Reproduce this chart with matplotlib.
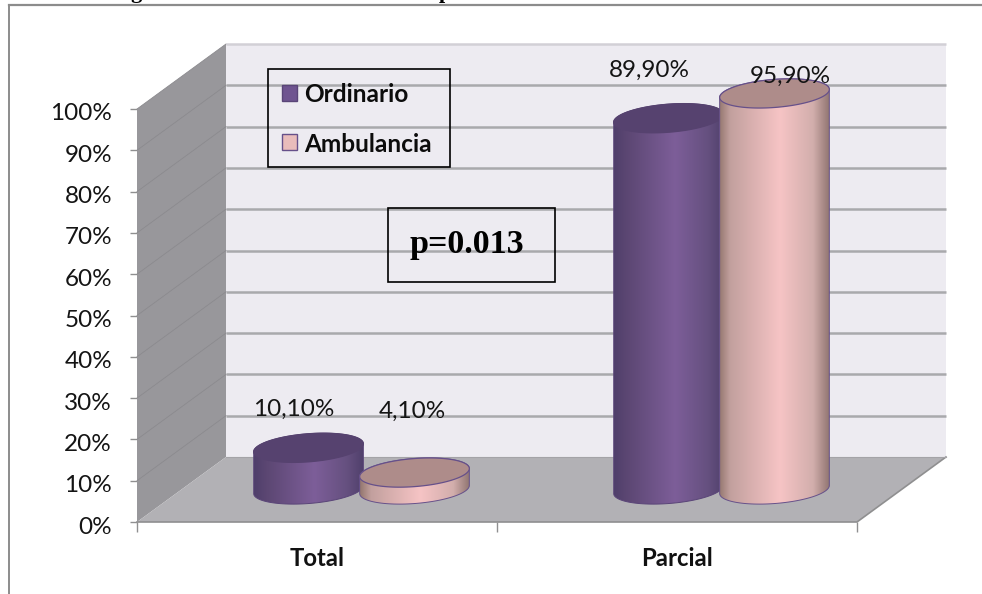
import numpy as np
import matplotlib
matplotlib.use('Agg')
import matplotlib.pyplot as plt
from matplotlib.colors import LinearSegmentedColormap
from matplotlib.patches import PathPatch, Polygon, Rectangle
from matplotlib.path import Path
from matplotlib.transforms import ScaledTranslation

categories = ['Total', 'Parcial']
series_names = ['Ordinario', 'Ambulancia']
ordinario = [10.1, 89.9]
ambulancia = [4.1, 95.9]
value_labels = [['10,10%', '89,90%'], ['4,10%', '95,90%']]
y_ticks = [0, 10, 20, 30, 40, 50, 60, 70, 80, 90, 100]
p_text = 'p=0.013'

W, H = 982, 594
# plot box of the front plane, in pixels
left, right, top, bottom = 137, 857, 109, 522
x_scale = (right - left) / 2.0     # px per category
y_scale = (bottom - top) / 100.0   # px per percent

depth_x = 89 / x_scale
depth_y = 65 / y_scale
bar_offset = 53 / x_scale
rx, ry, tilt = 55.0, 14.0, np.radians(4.5)

body_cmaps = [
    LinearSegmentedColormap.from_list('purple', [(0, '#4f3f6b'), (0.12, '#5c4773'), (0.55, '#7d5e99'), (0.85, '#65507f'), (1, '#4f3f6b')]),
    LinearSegmentedColormap.from_list('pink', [(0, '#94776f'), (0.1, '#c2a09e'), (0.55, '#f6c4c5'), (0.85, '#d2aeac'), (1, '#8f7470')]),
]
cap_colors = ['#56426f', '#ae8c8a']
edge_colors = ['#5a4578', '#66508a']


def px(x, y):
    return x / W, 1 - y / H


def ellipse_points(cx, cy, t):
    # tilted ellipse for the cylinder ends, worked out in pixels and returned in data units
    ex = rx * np.cos(t) * np.cos(tilt) - ry * np.sin(t) * np.sin(tilt)
    ey = rx * np.cos(t) * np.sin(tilt) + ry * np.sin(t) * np.cos(tilt)
    return np.column_stack([cx + ex / x_scale, cy + ey / y_scale])


def cylinder(ax, cx, value, s):
    base = depth_y / 2
    low = ellipse_points(cx, base, np.linspace(np.pi, 2 * np.pi, 60))
    up = ellipse_points(cx, base + value, np.linspace(0, np.pi, 60))
    body = Path(np.vstack([low, up, low[:1]]), closed=True)
    patch = PathPatch(body, facecolor='none', edgecolor=edge_colors[s], lw=0.7,
                      clip_on=False, zorder=5 + s)
    ax.add_patch(patch)
    grad = np.linspace(0, 1, 256).reshape(1, -1)
    x0, x1 = cx - rx / x_scale, cx + rx / x_scale
    y0, y1 = base - 30 / y_scale, base + value + 30 / y_scale
    im = ax.imshow(grad, cmap=body_cmaps[s], extent=(x0, x1, y0, y1), aspect='auto',
                   interpolation='bilinear', zorder=4 + s)
    # the tallest bars rise above the front plane, so clip to the figure and not the axes
    im.set_clip_box(fig.bbox)
    im.set_clip_path(PathPatch(body, transform=ax.transData))
    cap = Polygon(ellipse_points(cx, base + value, np.linspace(0, 2 * np.pi, 120)),
                  closed=True, facecolor=cap_colors[s],
                  edgecolor=edge_colors[s] if s == 1 else cap_colors[s], lw=0.9,
                  clip_on=False, zorder=5 + s)
    ax.add_patch(cap)


fig = plt.figure(figsize=(W / 100, H / 100), dpi=100, facecolor='white')
ax = fig.add_axes([left / W, 1 - bottom / H, (right - left) / W, (bottom - top) / H])
ax.patch.set_visible(False)
for sp in ax.spines.values():
    sp.set_visible(False)

# back wall, side wall and floor of the 3D box
ax.add_patch(Polygon([(depth_x, depth_y), (2 + depth_x, depth_y), (2 + depth_x, 100 + depth_y), (depth_x, 100 + depth_y)],
                     facecolor='#edebf1', edgecolor='none', clip_on=False, zorder=1))
ax.add_patch(Polygon([(0, 0), (depth_x, depth_y), (depth_x, 100 + depth_y), (0, 100)],
                     facecolor='#98979b', edgecolor='none', clip_on=False, zorder=2))
ax.add_patch(Polygon([(0, 0), (2, 0), (2 + depth_x, depth_y), (depth_x, depth_y)],
                     facecolor='#b2b1b5', edgecolor='none', clip_on=False, zorder=2))
for v in y_ticks[1:]:
    color = '#d2d0d6' if v == 100 else '#a9a9ac'
    ax.plot([depth_x, 2 + depth_x], [v + depth_y, v + depth_y], color=color, lw=1.8,
            clip_on=False, zorder=1.5, solid_capstyle='butt')
    ax.plot([0, depth_x], [v, v + depth_y], color='#8b8a8e', lw=0.6, clip_on=False, zorder=2.5)
ax.plot([0, 2, 2 + depth_x], [0, 0, depth_y], color='#8f8f90', lw=1.2, clip_on=False, zorder=3)
ax.plot([depth_x, 2 + depth_x], [depth_y, depth_y], color='#a4a3a7', lw=0.8, clip_on=False, zorder=3)

# label offsets from the centre of each cap, in pixels
label_shift = [[(-15, 38), (-19, 48)], [(-2, 61), (16, 17)]]
for s, values in enumerate([ordinario, ambulancia]):
    for c, value in enumerate(values):
        cx = c + 0.5 + (2 * s - 1) * bar_offset + depth_x / 2
        cylinder(ax, cx, value, s)
        ax.annotate(value_labels[s][c], (cx, value + depth_y / 2), xytext=label_shift[s][c],
                    textcoords=('offset pixels'), ha='center', va='center', family='Lato',
                    fontsize=17.5, color='#141414', zorder=8, annotation_clip=False)

ax.set_xlim(0, 2)
ax.set_ylim(0, 100)
ax.set_yticks(y_ticks)
ax.set_yticklabels(['%d%%' % v for v in y_ticks], family='Lato', fontsize=17.5, color='#141414')
ax.set_xticks([0, 1, 2])
ax.set_xticklabels([])
ax.set_xticks([0.5, 1.5], minor=True)
ax.set_xticklabels(categories, minor=True, family='Lato', fontweight='bold', fontsize=17.2, color='#111111')
ax.tick_params(axis='y', length=5, width=1, color='#8f8f90', pad=13)
ax.tick_params(axis='x', which='major', length=7, width=1, color='#8f8f90')
ax.tick_params(axis='x', which='minor', length=0, pad=18)
# y labels sit a little below their tick marks
for lab in ax.get_yticklabels():
    lab.set_transform(lab.get_transform() + ScaledTranslation(0, -3 / 100, fig.dpi_scale_trans))

# outer frame of the chart, open at the right and at the bottom
fig.add_artist(plt.Line2D([px(9, 0)[0], px(9, 0)[0]], [px(0, 5)[1], 0], color='#8c8c8c', lw=1.4))
fig.add_artist(plt.Line2D([px(9, 0)[0], 1], [px(0, 5)[1], px(0, 5)[1]], color='#8c8c8c', lw=1.6))

# heading cut by the top edge, only the descenders remain
for letter, x in [('g', 136), ('p', 445)]:
    fig.text(*px(x, -2), letter, family='Liberation Serif', fontweight='bold', fontsize=16,
             ha='center', va='baseline', color='black')

# legend box
x0, y0 = px(268, 167)
x1, y1 = px(450, 69)
fig.add_artist(Rectangle((x0, y0), x1 - x0, y1 - y0, transform=fig.transFigure, fill=False, ec='black', lw=1.2))
for s, (name, yc) in enumerate(zip(series_names, [93, 142])):
    xa, ya = px(282, yc + 8)
    xb, yb = px(297, yc - 8)
    fig.add_artist(Rectangle((xa, ya), xb - xa, yb - ya, transform=fig.transFigure,
                             fc=['#6f5490', '#e9bcbb'][s], ec=['#5a4578', '#66508a'][s], lw=1))
    fig.text(*px(304, yc + 2), name, family='Lato', fontweight='bold', fontsize=17.6, va='center', ha='left', color='#0c0c0c')

# p value box
x0, y0 = px(388, 282)
x1, y1 = px(555, 208)
fig.add_artist(Rectangle((x0, y0), x1 - x0, y1 - y0, transform=fig.transFigure, fill=False, ec='black', lw=1.2))
fig.text(*px(467, 245), p_text, family='Liberation Serif', fontweight='bold', fontsize=24.5, ha='center', va='center', color='black')

fig.savefig('out.png', dpi=100)
